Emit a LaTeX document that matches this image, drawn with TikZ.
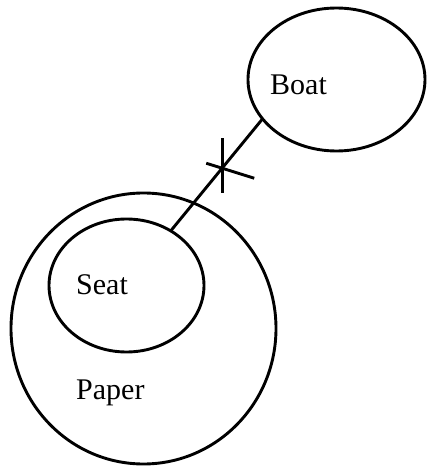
\documentclass[tikz,border=0pt]{standalone}
\usepackage{fontspec}
\setmainfont{Liberation Serif}
\usetikzlibrary{shapes.geometric}
\begin{document}
\begin{tikzpicture}[x=1pt,y=1pt,
  blob/.style={draw,ellipse,line width=2.9pt,inner sep=0pt,outer sep=0pt},
  lbl/.style={inner sep=0pt,anchor=base west,font=\fontsize{30}{35}\selectfont},
  link/.style={line width=2.9pt}]
\useasboundingbox (0,0) rectangle (427,467);
\node[blob,minimum width=265pt,minimum height=271pt] (paper) at (143.5,138.5) {};
\node[blob,minimum width=155pt,minimum height=133pt] (seat) at (126.5,181.5) {};
\node[blob,minimum width=177pt,minimum height=143pt] (boat) at (336.5,387.5) {};
\node[lbl] (boatl) at (270,372) {Boat};
\node[lbl] (seatl) at (76,172) {Seat};
\node[lbl] (paperl) at (76,67) {Paper};
\draw[link] (seat.51) -- coordinate[pos=0.55] (cx) (boat.208);
\draw[link] ([shift={(1,31)}]cx) -- ([shift={(1,-24)}]cx);
\draw[link] ([shift={(-15,6)}]cx) -- ([shift={(33,-9)}]cx);
\end{tikzpicture}
\end{document}
